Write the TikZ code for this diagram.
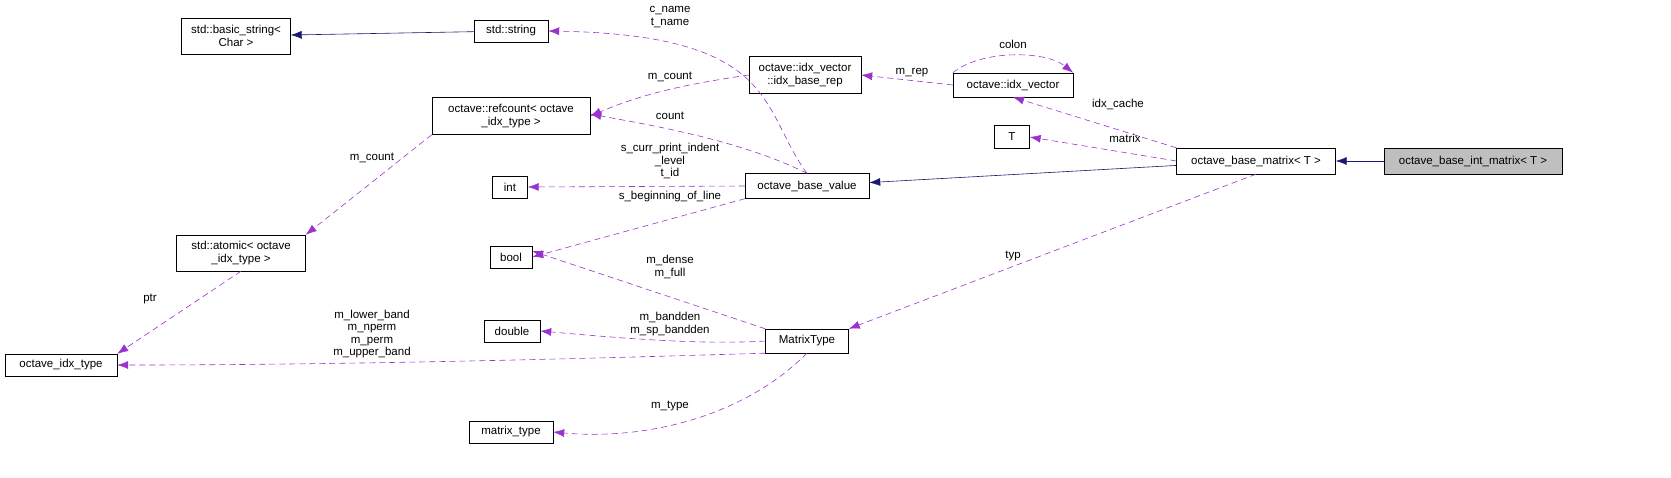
\documentclass[tikz,border=0pt]{standalone}
\usepackage{fontspec}
\setmainfont{Liberation Sans}
\usetikzlibrary{arrows.meta}
\definecolor{edgeblue}{HTML}{191970}
\definecolor{edgepurple}{HTML}{9A32CD}
\begin{document}
\begin{tikzpicture}[
    x=1pt,y=-1pt,
    cls/.style={draw,inner sep=0pt,align=center,font=\fontsize{11.5}{12.5}\selectfont},
    lbl/.style={inner sep=0pt,align=center,font=\fontsize{11.5}{12.5}\selectfont},
    inh/.style={draw=edgeblue,semithick,-{Latex[length=11pt,width=8pt]}},
    use/.style={draw=edgepurple,semithick,dash pattern=on 6pt off 4pt,-{Latex[length=11pt,width=8pt]}}
    ]
    \useasboundingbox (0,0) rectangle (1671,477);

    % classes:
    \node (intmat) at (1473,161) [cls,fill=black!25,minimum width=178,minimum height=26] {octave\_base\_int\_matrix< T >};
    \node (basemat) at (1256,161) [cls,minimum width=159,minimum height=26] {octave\_base\_matrix< T >};
    \node (baseval) at (807,186) [cls,minimum width=124,minimum height=25] {octave\_base\_value};
    \node (stdstr) at (511,31) [cls,minimum width=74,minimum height=22] {std::string};
    \node (basicstr) at (236,36) [cls,minimum width=109,minimum height=36] {std::basic\_string<\\Char >};
    \node (idxrep) at (805,75) [cls,minimum width=112,minimum height=37] {octave::idx\_vector\\::idx\_base\_rep};
    \node (idxvec) at (1013,85) [cls,minimum width=120,minimum height=24] {octave::idx\_vector};
    \node (refcnt) at (511,116) [cls,minimum width=158,minimum height=37] {octave::refcount< octave\\\_idx\_type >};
    \node (tparam) at (1012,137) [cls,minimum width=35,minimum height=23] {T};
    \node (int) at (510,187) [cls,minimum width=35,minimum height=22] {int};
    \node (bool) at (511,257) [cls,minimum width=42,minimum height=22] {bool};
    \node (atomic) at (241,253) [cls,minimum width=129,minimum height=36] {std::atomic< octave\\\_idx\_type >};
    \node (double) at (512,331) [cls,minimum width=56,minimum height=22] {double};
    \node (mtype) at (807,341) [cls,minimum width=83,minimum height=24] {MatrixType};
    \node (idxtype) at (61,365) [cls,minimum width=112,minimum height=22] {octave\_idx\_type};
    \node (mattype) at (511,432) [cls,minimum width=84,minimum height=22] {matrix\_type};

    % inheritance:
    \draw [inh] (intmat) -- (basemat);
    \draw [inh] (basemat) -- (baseval);
    \draw [inh] (stdstr) -- (basicstr);

    % members:
    \draw [use] (baseval.north) .. controls (760,110) and (780,35) .. (stdstr.east);
    \draw [use] (idxrep.west) .. controls (680,85) and (640,95) .. (refcnt.east);
    \draw [use] (baseval.north) .. controls (740,140) and (650,125) .. ([yshift=2]refcnt.east);
    \draw [use] (idxvec.west) -- (idxrep.east);
    \draw [use] (idxvec.north west) .. controls (980,50) and (1045,50) .. (idxvec.north east);
    \draw [use] (basemat.north west) -- (idxvec.south);
    \draw [use] (basemat.west) -- (tparam.east);
    \draw [use] (baseval.west) -- (int.east);
    \draw [use] (baseval.south west) -- (bool.east);
    \draw [use] (basemat.south) -- (mtype.north east);
    \draw [use] (mtype.north west) -- ([yshift=6]bool.east);
    \draw [use] (mtype.west) .. controls (700,345) and (620,338) .. (double.east);
    \draw [use] (mtype.south west) .. controls (700,355) and (400,365) .. (idxtype.east);
    \draw [use] (mtype.south) .. controls (740,420) and (640,440) .. (mattype.east);
    \draw [use] (refcnt.south west) -- (atomic.north east);
    \draw [use] (atomic.south) -- (idxtype.north east);

    % labels:
    \node [lbl] at (670,17) {c\_name\\t\_name};
    \node [lbl] at (670,77) {m\_count};
    \node [lbl] at (670,116) {count};
    \node [lbl] at (912,73) {m\_rep};
    \node [lbl] at (1013,44) {colon};
    \node [lbl] at (1118,104) {idx\_cache};
    \node [lbl] at (1125,138) {matrix};
    \node [lbl] at (670,161) {s\_curr\_print\_indent\\\_level\\t\_id};
    \node [lbl] at (670,197) {s\_beginning\_of\_line};
    \node [lbl] at (1013,256) {typ};
    \node [lbl] at (670,267) {m\_dense\\m\_full};
    \node [lbl] at (670,324) {m\_bandden\\m\_sp\_bandden};
    \node [lbl] at (372,334) {m\_lower\_band\\m\_nperm\\m\_perm\\m\_upper\_band};
    \node [lbl] at (670,406) {m\_type};
    \node [lbl] at (372,158) {m\_count};
    \node [lbl] at (150,299) {ptr};
  \end{tikzpicture}
\end{document}
